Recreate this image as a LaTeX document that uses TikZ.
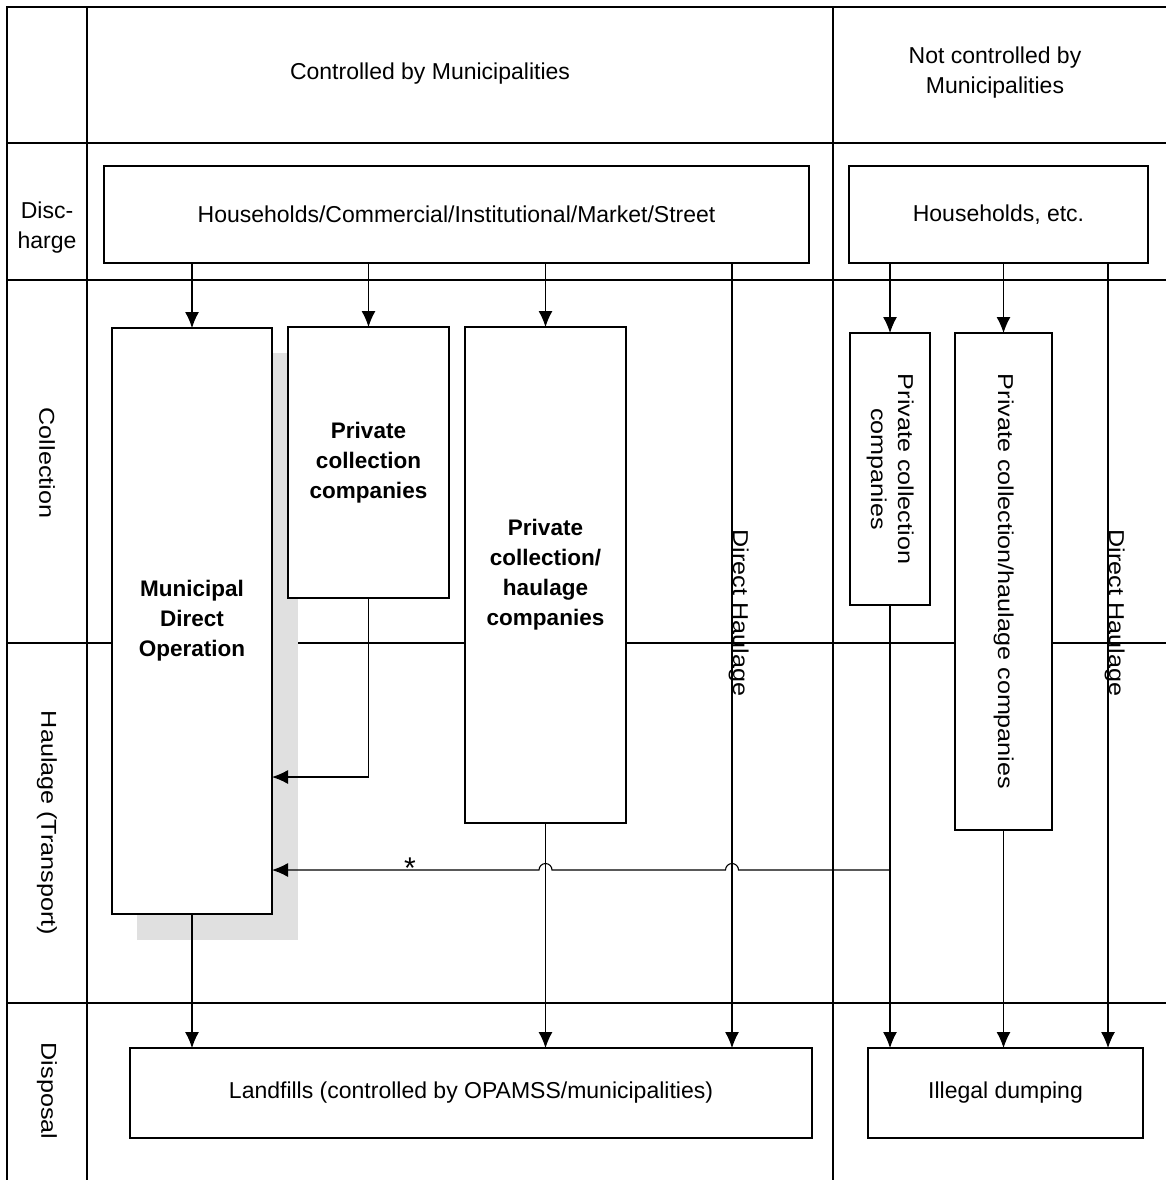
\documentclass[tikz,border=0pt]{standalone}
\usepackage{fontspec}
\usepackage{graphicx}
\setmainfont{Liberation Sans}
\usetikzlibrary{arrows.meta,calc}
\newcommand{\rtxt}[1]{\rotatebox{-90}{\scalebox{1.17}[1]{\begin{tabular}{@{}c@{}}#1\end{tabular}}}}
\begin{document}
\begin{tikzpicture}[x=1pt,y=-1pt,
  gridline/.style={line width=1.4},
  box/.style={draw, line width=1.6, fill=white, inner sep=0pt, outer sep=0pt, align=center},
  arr/.style={line width=1.1, -{Latex[length=16pt,width=14pt]}},
  lbl/.style={font=\fontsize{23}{30}\selectfont, align=center},
  bld/.style={font=\bfseries\fontsize{22.5}{30}\selectfont, align=center},
  rotfont/.style={font=\fontsize{21.5}{27}\selectfont},
  rotlbl/.style={font=\fontsize{21.5}{27}\selectfont, rotate=-90, inner sep=0pt},
]
\useasboundingbox (0,0) rectangle (1166,1180);
\fill[white] (0,0) rectangle (1166,1180);

% table grid
\draw[gridline] (7,1180) -- (7,7) -- (1166,7);
\draw[gridline] (87,7) -- (87,1180);
\draw[gridline] (833,7) -- (833,1180);
\foreach \yy in {143,280,643,1003} \draw[gridline] (7,\yy) -- (1166,\yy);

% headers
\node[lbl] (hc) at (430,74) {Controlled by Municipalities};
\node[lbl] (hn) at (995,73) {Not controlled by\\Municipalities};

% row labels
\node[lbl] (ldis) at (47,228) {Disc-\\harge};
\node[rotlbl] (lcol) at (47,463) {\scalebox{1.17}[1]{Collection}};
\node[rotlbl] (lhau) at (47,823) {\scalebox{1.17}[1]{Haulage (Transport)}};
\node[rotlbl] (ldsp) at (47,1091) {\scalebox{1.17}[1]{Disposal}};

% shadow of municipal box
\fill[black!12] (137,353) rectangle (298,940);

% boxes
\node[box, lbl, minimum width=705, minimum height=97] (hh) at (456.5,214.5) {Households/Commercial/Institutional/Market/Street};
\node[box, lbl, minimum width=299, minimum height=97] (he) at (998.5,214.5) {Households, etc.};
\node[box, bld, minimum width=160, minimum height=586] (mdo) at (192,621) {Municipal\\Direct\\Operation};
\node[box, bld, minimum width=161, minimum height=271] (pcc) at (368.5,462.5) {Private\\collection\\companies};
\node[box, bld, minimum width=161, minimum height=496] (pch) at (545.5,575) {Private\\collection/\\haulage\\companies};
\node[box, rotfont, minimum width=80, minimum height=272] (rcc) at (890,469) {\rtxt{Private collection\\companies}};
\node[box, rotfont, minimum width=97, minimum height=497] (rch) at (1003.5,581.5) {\rtxt{Private collection/haulage companies}};
\node[box, lbl, minimum width=682, minimum height=90] (lf) at (471,1093) {Landfills (controlled by OPAMSS/municipalities)};
\node[box, lbl, minimum width=275, minimum height=90] (ilg) at (1005.5,1093) {Illegal dumping};

% helper coordinates
\coordinate (dh1) at (732,600);
\coordinate (dh2) at (1108,600);
\coordinate (y777) at (0,777);
\coordinate (y870) at (0,870);

% direct haulage
\draw[arr] (hh.south -| dh1) -- (lf.north -| dh1);
\draw[arr] (he.south -| dh2) -- (ilg.north -| dh2);
\node[rotlbl, anchor=base] (dht1) at (733,613) {\scalebox{1.17}[1]{Direct Haulage}};
\node[rotlbl, anchor=base] (dht2) at (1109,613) {\scalebox{1.17}[1]{Direct Haulage}};

% discharge to collection
\draw[arr] (hh.south -| mdo.north) -- (mdo.north);
\draw[arr] (hh.south -| pcc.north) -- (pcc.north);
\draw[arr] (hh.south -| pch.north) -- (pch.north);
\draw[arr] (he.south -| rcc.north) -- (rcc.north);
\draw[arr] (he.south -| rch.north) -- (rch.north);

% haulage
\draw[arr] (pcc.south) -- (pcc.south |- y777) -- (mdo.east |- y777);
\draw[arr] (rcc.south) -- (rcc.south |- y870) -- ($(dh1 |- y870)+(6.5,0)$)
  arc[start angle=0, end angle=-180, radius=6.5] -- ($(pch.south |- y870)+(6.5,0)$)
  arc[start angle=0, end angle=-180, radius=6.5] -- (mdo.east |- y870);
\node[font=\fontsize{30}{30}\selectfont, inner sep=0pt] (ast) at (410,868) {*};

% disposal
\draw[arr] (mdo.south) -- (lf.north -| mdo.south);
\draw[arr] (pch.south) -- (lf.north -| pch.south);
\draw[arr] (rcc.south) -- (ilg.north -| rcc.south);
\draw[arr] (rch.south) -- (ilg.north -| rch.south);
\end{tikzpicture}
\end{document}
